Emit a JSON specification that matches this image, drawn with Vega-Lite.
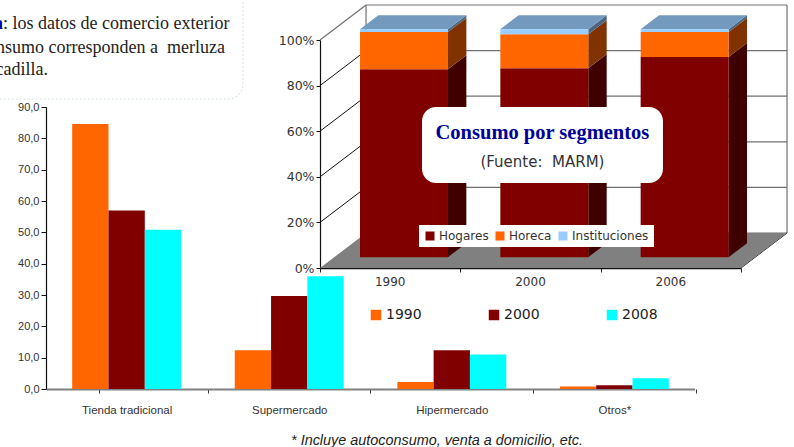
{
"$schema":"https://vega.github.io/schema/vega-lite/v6.json",
"autosize":{"type":"none"},"padding":0,"width":794,"height":447,
"background":"white",
"config":{"view":{"stroke":null},"axis":{"grid":false,"title":null}},
"datasets":{
"seg":[
{"year":"1990","segment":"Hogares","pct":82.4},{"year":"1990","segment":"Horeca","pct":16.4},{"year":"1990","segment":"Instituciones","pct":1.2},
{"year":"2000","segment":"Hogares","pct":82.8},{"year":"2000","segment":"Horeca","pct":15.0},{"year":"2000","segment":"Instituciones","pct":2.2},
{"year":"2006","segment":"Hogares","pct":87.8},{"year":"2006","segment":"Horeca","pct":11.0},{"year":"2006","segment":"Instituciones","pct":1.2}],
"walls":[
{"kind":"back","c0":0,"d0":1,"p0":0,"c1":3,"d1":1,"p1":0},
{"kind":"back","c0":0,"d0":1,"p0":20,"c1":3,"d1":1,"p1":20},
{"kind":"back","c0":0,"d0":1,"p0":40,"c1":3,"d1":1,"p1":40},
{"kind":"back","c0":0,"d0":1,"p0":60,"c1":3,"d1":1,"p1":60},
{"kind":"back","c0":0,"d0":1,"p0":80,"c1":3,"d1":1,"p1":80},
{"kind":"back","c0":0,"d0":1,"p0":100,"c1":3,"d1":1,"p1":100},
{"kind":"back","c0":0,"d0":1,"p0":0,"c1":0,"d1":1,"p1":100},
{"kind":"back","c0":3,"d0":1,"p0":0,"c1":3,"d1":1,"p1":100},
{"kind":"back","c0":0,"d0":0,"p0":100,"c1":0,"d1":1,"p1":100},
{"kind":"side","c0":0,"d0":0,"p0":20,"c1":0,"d1":1,"p1":20},
{"kind":"side","c0":0,"d0":0,"p0":40,"c1":0,"d1":1,"p1":40},
{"kind":"side","c0":0,"d0":0,"p0":60,"c1":0,"d1":1,"p1":60},
{"kind":"side","c0":0,"d0":0,"p0":80,"c1":0,"d1":1,"p1":80},
{"kind":"side","c0":3,"d0":0,"p0":0,"c1":3,"d1":1,"p1":0}],
"canal":[
{"canal":"Tienda tradicional","year":"1990","value":84.6},{"canal":"Tienda tradicional","year":"2000","value":57},{"canal":"Tienda tradicional","year":"2008","value":50.8},
{"canal":"Supermercado","year":"1990","value":12.4},{"canal":"Supermercado","year":"2000","value":29.7},{"canal":"Supermercado","year":"2008","value":36},
{"canal":"Hipermercado","year":"1990","value":2.2},{"canal":"Hipermercado","year":"2000","value":12.4},{"canal":"Hipermercado","year":"2008","value":11},
{"canal":"Otros*","year":"1990","value":0.8},{"canal":"Otros*","year":"2000","value":1.2},{"canal":"Otros*","year":"2008","value":3.4}]
},
"resolve":{"scale":{"x":"independent","y":"independent","color":"independent","fill":"independent"},"axis":{"x":"independent","y":"independent"},"legend":{"color":"independent","fill":"independent"}},
"layer":[
{"data":{"name":"walls"},"transform":[{"filter":"datum.kind==='back'"},{"calculate":"datum.c0+datum.d0*0.328","as":"xa"},{"calculate":"datum.c1+datum.d1*0.328","as":"xb"},{"calculate":"datum.p0+datum.d0*15.35","as":"ya"},{"calculate":"datum.p1+datum.d1*15.35","as":"yb"}],
 "mark":{"type":"rule","color":"#707070","strokeWidth":1.2},
 "encoding":{"x":{"field":"xa","type":"quantitative","scale":{"domain":[0,3],"range":[320,741],"nice":false,"zero":false},
   "axis":{"orient":"bottom","values":[0,1,2,3],"labels":false,"title":null,"offset":-179,"tickSize":4,"tickColor":"#222222","domainColor":"#111111","domainWidth":1.6}},
  "x2":{"field":"xb"},
  "y":{"field":"ya","type":"quantitative","scale":{"domain":[0,100],"range":[268,40],"nice":false,"zero":false},
   "axis":{"orient":"left","values":[0,20,40,60,80,100],"labelExpr":"datum.value+'%'","title":null,"offset":-320,"tickSize":4,"tickColor":"#111111","domainColor":"#111111","domainWidth":1.2,"labelFont":"DejaVu Sans","labelFontSize":12.5,"labelColor":"#333333","labelPadding":2}},
  "y2":{"field":"yb"}}},
{"data":{"name":"walls"},"transform":[{"filter":"datum.kind==='side'"},{"calculate":"datum.c0+datum.d0*0.328","as":"xa"},{"calculate":"datum.c1+datum.d1*0.328","as":"xb"},{"calculate":"datum.p0+datum.d0*15.35","as":"ya"},{"calculate":"datum.p1+datum.d1*15.35","as":"yb"}],
 "mark":{"type":"rule","color":"#111111","strokeWidth":1},
 "encoding":{"x":{"field":"xa","type":"quantitative","scale":{"domain":[0,3],"range":[320,741],"nice":false,"zero":false},"axis":null},"x2":{"field":"xb"},"y":{"field":"ya","type":"quantitative","scale":{"domain":[0,100],"range":[268,40],"nice":false,"zero":false},"axis":null},"y2":{"field":"yb"}}},
{"data":{"values":[{"depth":0},{"depth":1}]},"transform":[{"calculate":"datum.depth*0.328","as":"xa"},{"calculate":"3+datum.depth*0.328","as":"xb"},{"calculate":"datum.depth*15.35","as":"ya"}],
 "mark":{"type":"area","orient":"horizontal","color":"#808080"},
 "encoding":{"x":{"field":"xa","type":"quantitative","scale":{"domain":[0,3],"range":[320,741],"nice":false,"zero":false},"axis":null},"x2":{"field":"xb"},"y":{"field":"ya","type":"quantitative","scale":{"domain":[0,100],"range":[268,40],"nice":false,"zero":false},"axis":null}}},
{"data":{"name":"seg"},"transform":[{"calculate":"indexof(['1990','2000','2006'],datum.year)","as":"i"},{"calculate":"indexof(['Hogares','Horeca','Instituciones'],datum.segment)","as":"o"},{"stack":"pct","groupby":["year"],"sort":[{"field":"o","order":"ascending"}],"as":["p0","p1"]},
  {"calculate":"0.31","as":"front"},{"calculate":"0.71","as":"back"},{"fold":["front","back"],"as":["face","depth"]},
  {"calculate":"datum.i+0.81+datum.depth*0.328","as":"sx"},{"calculate":"datum.p0+datum.depth*15.35","as":"sa"},{"calculate":"datum.p1+datum.depth*15.35","as":"sb"}],
 "mark":{"type":"area","orient":"vertical"},
 "encoding":{"x":{"field":"sx","type":"quantitative","scale":{"domain":[0,3],"range":[320,741],"nice":false,"zero":false},"axis":null},"y":{"field":"sa","type":"quantitative","scale":{"domain":[0,100],"range":[268,40],"nice":false,"zero":false},"axis":null,"stack":null},"y2":{"field":"sb"},"detail":{"field":"year"},
  "color":{"field":"segment","type":"nominal","legend":null,"scale":{"domain":["Hogares","Horeca","Instituciones"],"range":["#400000","#803300","#4D6680"]}}}},
{"data":{"name":"seg"},"transform":[{"calculate":"indexof(['1990','2000','2006'],datum.year)","as":"i"},{"filter":"datum.segment==='Instituciones'"},
  {"calculate":"0.31","as":"front"},{"calculate":"0.71","as":"back"},{"fold":["front","back"],"as":["face","depth"]},
  {"calculate":"datum.i+0.183+datum.depth*0.328","as":"ta"},{"calculate":"datum.i+0.81+datum.depth*0.328","as":"tb"},{"calculate":"100+datum.depth*15.35","as":"ty"}],
 "mark":{"type":"area","orient":"horizontal","color":"#7399BF"},
 "encoding":{"x":{"field":"ta","type":"quantitative","scale":{"domain":[0,3],"range":[320,741],"nice":false,"zero":false},"axis":null,"stack":null},"x2":{"field":"tb"},"y":{"field":"ty","type":"quantitative","scale":{"domain":[0,100],"range":[268,40],"nice":false,"zero":false},"axis":null},"detail":{"field":"year"}}},
{"data":{"name":"seg"},"transform":[{"calculate":"indexof(['1990','2000','2006'],datum.year)","as":"i"},{"calculate":"indexof(['Hogares','Horeca','Instituciones'],datum.segment)","as":"o"},{"stack":"pct","groupby":["year"],"sort":[{"field":"o","order":"ascending"}],"as":["p0","p1"]},
  {"calculate":"datum.i+0.285","as":"fa"},{"calculate":"datum.i+0.912","as":"fb"},{"calculate":"datum.p0+4.76","as":"fy0"},{"calculate":"datum.p1+4.76","as":"fy1"}],
 "mark":{"type":"rect"},
 "encoding":{"x":{"field":"fa","type":"quantitative","scale":{"domain":[0,3],"range":[320,741],"nice":false,"zero":false},"axis":null},"x2":{"field":"fb"},"y":{"field":"fy0","type":"quantitative","scale":{"domain":[0,100],"range":[268,40],"nice":false,"zero":false},"axis":null},"y2":{"field":"fy1"},
  "fill":{"field":"segment","type":"nominal","scale":{"domain":["Hogares","Horeca","Instituciones"],"range":["#800000","#FF6600","#99CCFF"]},
   "legend":{"orient":"none","legendX":419,"legendY":225,"title":null,"direction":"horizontal","columns":3,"gridAlign":"none","fillColor":"white","padding":5,"symbolType":"square","symbolSize":81,"symbolStrokeWidth":0,"labelFont":"DejaVu Sans","labelFontSize":12,"labelColor":"#333333","labelOffset":3,"columnPadding":5}}}},
{"data":{"values":[{"year":"1990"},{"year":"2000"},{"year":"2006"}]},"transform":[{"calculate":"indexof(['1990','2000','2006'],datum.year)+0.5","as":"lx"}],
 "mark":{"type":"text","font":"DejaVu Sans","fontSize":12,"color":"#333333","baseline":"middle"},
 "encoding":{"x":{"field":"lx","type":"quantitative","scale":{"domain":[0,3],"range":[320,741],"nice":false,"zero":false},"axis":null},"y":{"datum":-6.1,"type":"quantitative","scale":{"domain":[0,100],"range":[268,40],"nice":false,"zero":false},"axis":null},"text":{"field":"year"}}},
{"data":{"values":[{"panel":"consumo"}]},"mark":{"type":"rect","fill":"white","cornerRadius":14},
 "encoding":{"x":{"datum":0.727,"type":"quantitative","scale":{"domain":[0,3],"range":[320,741],"nice":false,"zero":false},"axis":null},"x2":{"datum":2.444},"y":{"datum":70.6,"type":"quantitative","scale":{"domain":[0,100],"range":[268,40],"nice":false,"zero":false},"axis":null},"y2":{"datum":37.3}}},
{"data":{"values":[{"label":"Consumo por segmentos"}]},"mark":{"type":"text","font":"Liberation Serif","fontWeight":"bold","fontSize":20.5,"color":"#000099","baseline":"middle"},
 "encoding":{"x":{"datum":1.585,"type":"quantitative","scale":{"domain":[0,3],"range":[320,741],"nice":false,"zero":false},"axis":null},"y":{"datum":59.2,"type":"quantitative","scale":{"domain":[0,100],"range":[268,40],"nice":false,"zero":false},"axis":null},"text":{"field":"label"}}},
{"data":{"values":[{"label":"(Fuente:\u00a0 MARM)"}]},"mark":{"type":"text","font":"DejaVu Sans","fontSize":15,"color":"#333333","baseline":"middle"},
 "encoding":{"x":{"datum":1.585,"type":"quantitative","scale":{"domain":[0,3],"range":[320,741],"nice":false,"zero":false},"axis":null},"y":{"datum":46.5,"type":"quantitative","scale":{"domain":[0,100],"range":[268,40],"nice":false,"zero":false},"axis":null},"text":{"field":"label"}}},
{"data":{"values":[{"nota":"caja"}]},"mark":{"type":"rect","fill":"white","stroke":"#CFE0DC","strokeDash":[2,2],"strokeWidth":1,"cornerRadius":15},
 "encoding":{"x":{"datum":-2.6,"type":"quantitative","scale":{"domain":[0,3],"range":[320,741],"nice":false,"zero":false},"axis":null},"x2":{"datum":-0.549},"y":{"datum":74.1,"type":"quantitative","scale":{"domain":[0,100],"range":[268,40],"nice":false,"zero":false},"axis":null},"y2":{"datum":126.3}}},
{"data":{"values":[{"label":"Nota"}]},"mark":{"type":"text","font":"Liberation Serif","fontWeight":"bold","fontSize":18,"color":"#000099","align":"right"},
 "encoding":{"x":{"datum":-2.259,"type":"quantitative","scale":{"domain":[0,3],"range":[320,741],"nice":false,"zero":false},"axis":null},"y":{"datum":107,"type":"quantitative","scale":{"domain":[0,100],"range":[268,40],"nice":false,"zero":false},"axis":null},"text":{"field":"label"}}},
{"data":{"values":[{"label":": los datos de comercio exterior"}]},"mark":{"type":"text","font":"Liberation Serif","fontSize":18,"color":"#222222","align":"left"},
 "encoding":{"x":{"datum":-2.259,"type":"quantitative","scale":{"domain":[0,3],"range":[320,741],"nice":false,"zero":false},"axis":null},"y":{"datum":107,"type":"quantitative","scale":{"domain":[0,100],"range":[268,40],"nice":false,"zero":false},"axis":null},"text":{"field":"label"}}},
{"data":{"values":[{"label":"y consumo corresponden a\u00a0 merluza"}]},"mark":{"type":"text","font":"Liberation Serif","fontSize":18,"color":"#222222","align":"right"},
 "encoding":{"x":{"datum":-0.677,"type":"quantitative","scale":{"domain":[0,3],"range":[320,741],"nice":false,"zero":false},"axis":null},"y":{"datum":96.6,"type":"quantitative","scale":{"domain":[0,100],"range":[268,40],"nice":false,"zero":false},"axis":null},"text":{"field":"label"}}},
{"data":{"values":[{"label":"y pescadilla."}]},"mark":{"type":"text","font":"Liberation Serif","fontSize":18,"color":"#222222","align":"right"},
 "encoding":{"x":{"datum":-1.938,"type":"quantitative","scale":{"domain":[0,3],"range":[320,741],"nice":false,"zero":false},"axis":null},"y":{"datum":86.8,"type":"quantitative","scale":{"domain":[0,100],"range":[268,40],"nice":false,"zero":false},"axis":null},"text":{"field":"label"}}},
{"data":{"values":[{"label":"* Incluye autoconsumo, venta a domicilio, etc."}]},"mark":{"type":"text","font":"Liberation Sans","fontStyle":"italic","fontSize":14.4,"color":"#222222","baseline":"middle"},
 "encoding":{"x":{"datum":0.834,"type":"quantitative","scale":{"domain":[0,3],"range":[320,741],"nice":false,"zero":false},"axis":null},"y":{"datum":-75.9,"type":"quantitative","scale":{"domain":[0,100],"range":[268,40],"nice":false,"zero":false},"axis":null},"text":{"field":"label"}}},
{"data":{"name":"canal"},
 "mark":{"type":"bar"},
 "encoding":{
  "x":{"field":"canal","type":"nominal","sort":null,"scale":{"domain":["Tienda tradicional","Supermercado","Hipermercado","Otros*"],"range":[46.5,694.5],"paddingInner":0.33,"paddingOuter":0.158},
   "axis":{"orient":"bottom","title":null,"offset":-58,"labelAngle":0,"bandPosition":1,"tickExtra":true,"tickOffset":26.8,"labelOffset":-26.8,"tickSize":4,"tickColor":"#333333","domainColor":"#808080","domainWidth":2,"labelFont":"Liberation Sans","labelFontSize":11.5,"labelColor":"#333333","labelPadding":11}},
  "xOffset":{"field":"year","type":"nominal","sort":null,"scale":{"domain":["1990","2000","2008"]}},
  "y":{"field":"value","type":"quantitative","stack":null,"scale":{"domain":[0,90],"range":[389,107],"nice":false,"zero":false},
   "axis":{"orient":"left","title":null,"offset":-46,"values":[0,10,20,30,40,50,60,70,80,90],"labelExpr":"replace(format(datum.value,'.1f'),'.',',')","tickSize":5,"tickColor":"#111111","domainColor":"#111111","domainWidth":1.2,"labelFont":"Liberation Sans","labelFontSize":11,"labelColor":"#333333","labelPadding":2}},
  "color":{"field":"year","type":"nominal","scale":{"domain":["1990","2000","2008"],"range":["#FF6600","#800000","#00FFFF"]},
   "legend":{"orient":"none","legendX":369,"legendY":308,"title":null,"direction":"horizontal","columns":3,"symbolType":"square","symbolSize":110,"symbolStrokeWidth":0,"labelFont":"DejaVu Sans","labelFontSize":14,"labelColor":"#222222","labelOffset":3,"columnPadding":65,"padding":0}}
 }}
]
}
